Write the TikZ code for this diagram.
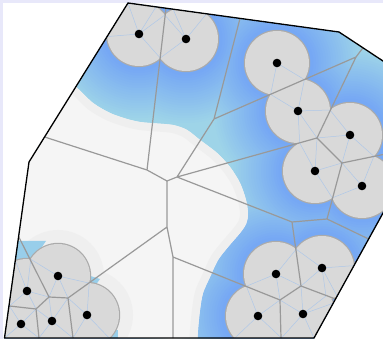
\documentclass[tikz,border=0pt]{standalone}
\definecolor{lav}{HTML}{E8E8FA}
\definecolor{bgw}{HTML}{F5F5F5}
\definecolor{band}{HTML}{EFEFEF}
\definecolor{cyanC}{HTML}{9ED4E8}
\definecolor{blueC}{HTML}{76A8F4}
\definecolor{diskC}{HTML}{D9D9D9}
\definecolor{diskE}{HTML}{ABABAB}
\definecolor{vorC}{HTML}{999999}
\definecolor{fanC}{HTML}{AFC8E8}
\tikzset{
  vor/.style={draw=vorC, line width=1.2pt},
  fan/.style={draw=fanC, line width=0.5pt},
  site/.style={fill=black},
}
\def\poly{(128,3) -- (339,32) -- (420,85.4) -- (400,182.2) -- (314,338) -- (4.5,338) -- (29,162) -- cycle}
\def\blobpts{(55,72) (77,88) (93,103) (110,113) (127,119) (140,122) (150,123) (173,125) (187,130) (200,140) (217,153) (230,167) (240,183) (246,200) (248,214) (246,224) (240,233) (228,247) (218,260) (210,277) (203,293) (200,310) (198,330) (197,350)}
\begin{document}
\begin{tikzpicture}[x=1pt,y=-1pt]
\clip (0,0) rectangle (383,339);
\fill[lav] (0,0) rectangle (383,339);
\fill[white] (3,3) rectangle (383,339);
% sites
\foreach \n/\x/\y in {A/139/34, B/186/39, C/277/63, D/298/111, E/350/135, F/315/171, G/362/186,
  H/276/274, I/322/268, J/258/316, K/303/314, L/58/276, M/27/291, N/21/324, O/52/321, P/87/315}
  {\coordinate (\n) at (\x,\y);}
% Voronoi vertices
\foreach \n/\x/\y in {V1/147/170, V2/167/181, V3/177/177, V4/214/119, V5/356/57, V6/317/138,
  V7/342/163, V8/327/219, V9/292/222, V10/167/227, V11/68/298, V12/49/297, V13/36/309,
  V14/173/257, V15/280/300, V16/301/286}
  {\coordinate (\n) at (\x,\y);}
% border ends
\coordinate (eAB) at (166,8.2);
\coordinate (eL) at (44.6,137);
\coordinate (eBC) at (240,18.4);
\coordinate (eCE) at (363,47.8);
\coordinate (eEG) at (388,153.5);
\coordinate (eGI) at (368.6,239);
\coordinate (eIK) at (335.5,299);
\coordinate (b1) at (73,338);
\coordinate (b2) at (39,338);
\coordinate (b3) at (173,338);
\coordinate (b4) at (281,338);
\coordinate (l1) at (18.8,237);
\coordinate (l2) at (9.4,306);

\begin{scope}
\clip \poly;
% blue distance field
\fill[cyanC] (0,0) rectangle (420,339);
\foreach \i in {0,...,19} {
  \pgfmathsetmacro{\r}{84-2.5*\i}
  \pgfmathsetmacro{\m}{5*\i+5}
  \fill[blueC!\m!cyanC] \foreach \s in {A,B,C,D,E,F,G,H,I,J,K,L,M,N,O,P} {(\s) circle[radius=\r]};
}
% white region
\fill[bgw] plot[smooth] coordinates {\blobpts} -- (-20,350) -- (-20,60) -- cycle;
\begin{scope}
  \clip plot[smooth] coordinates {\blobpts} -- (-20,350) -- (-20,60) -- cycle;
  \draw[band, line width=16pt] plot[smooth] coordinates {\blobpts};
\end{scope}
% halo of the lower-left group
\fill[band] \foreach \s in {L,M,N,O,P} {(\s) circle[radius=46]};
\fill[cyanC!85!blueC] (16,241) -- (46,241) -- (31,263) -- (13,263) -- cycle;
\fill[cyanC!85!blueC] (84,274) -- (100,279) -- (92,290) -- cycle;
\fill[cyanC!85!blueC] (105,330) -- (118,330) -- (118,340) -- (105,340) -- cycle;
% disks
\foreach \s in {A,B,C,D,E,F,G,H,I,J,K,L,M,N,O,P} {\draw[diskE, line width=2.4pt] (\s) circle[radius=32];}
\fill[diskC] \foreach \s in {A,B,C,D,E,F,G,H,I,J,K,L,M,N,O,P} {(\s) circle[radius=32]};
% fans
\draw[fan] (A) -- (107,36.6) (A) -- (128,3) (A) -- (156,6.9) (A) -- (164.8,15) (A) -- (160.2,58);
\draw[fan] (B) -- (160.2,58) (B) -- (164.8,15) (B) -- (173,9) (B) -- (206.5,13.8);
\draw[fan] (C) -- (270.6,94.4) (C) -- (304.4,79.6);
\draw[fan] (D) -- (270.6,94.4) (D) -- (304.4,79.6) (D) -- (330,110) (D) -- (V6) (D) -- (299.7,142.9);
\draw[fan] (E) -- (330,110) (E) -- (V6) (E) -- (V7) (E) -- (373.9,156.3);
\draw[fan] (F) -- (299.7,142.9) (F) -- (V6) (F) -- (V7) (F) -- (332.3,197.9);
\draw[fan] (G) -- (V7) (G) -- (373.9,156.3) (G) -- (332.3,197.9);
\draw[fan] (H) -- (246.4,286.2) (H) -- (V15) (H) -- (V16) (H) -- (296.2,249.2);
\draw[fan] (I) -- (296.2,249.2) (I) -- (V16) (I) -- (326,296) (I) -- (337,296) (I) -- (354,265.6);
\draw[fan] (J) -- (246.4,286.2) (J) -- (V15) (J) -- (281.5,338) (J) -- (234.8,338);
\draw[fan] (K) -- (V15) (K) -- (V16) (K) -- (326,296) (K) -- (333.2,303.2) (K) -- (314,338) (K) -- (281.5,338);
\draw[fan] (L) -- (30.8,259.3) (L) -- (V12) (L) -- (V11) (L) -- (89.2,283.1);
\draw[fan] (M) -- (30.8,259.3) (M) -- (15.5,261.1) (M) -- (l2) (M) -- (V13) (M) -- (V12);
\draw[fan] (N) -- (l2) (N) -- (4.5,338) (N) -- (b2) (N) -- (V13);
\draw[fan] (O) -- (V13) (O) -- (V12) (O) -- (V11) (O) -- (b1) (O) -- (b2);
\draw[fan] (P) -- (V11) (P) -- (89.2,283.1) (P) -- (109.2,338) (P) -- (b1);
% Voronoi edges
\draw[vor, line join=round] (eAB) -- (V1) (eL) -- (V1) (V1) -- (V2) (V2) -- (V3) (V2) -- (V10)
  (V3) -- (V4) (V3) -- (V6) (V3) -- (V9) (V4) -- (eBC) (V4) -- (V5) (V5) -- (eCE) (V5) -- (V6)
  (V6) -- (V7) (V7) -- (eEG) (V7) -- (V8) (V8) -- (eGI) (V8) -- (V9) (V9) -- (V16)
  (V10) -- (V11) (V10) -- (V14) (V11) -- (V12) (V11) -- (b1) (V12) -- (l1) (V12) -- (V13)
  (V13) -- (l2) (V13) -- (b2) (V14) -- (b3) (V14) -- (V15) (V15) -- (b4) (V15) -- (V16)
  (V16) -- (eIK);
\end{scope}
% outline
\draw[black, line width=1.3pt, line join=round] \poly;
% sites
\foreach \s in {A,B,C,D,E,F,G,H,I,J,K,L,M,N,O,P} {\fill[site] (\s) circle[radius=4.3];}
\end{tikzpicture}
\end{document}
